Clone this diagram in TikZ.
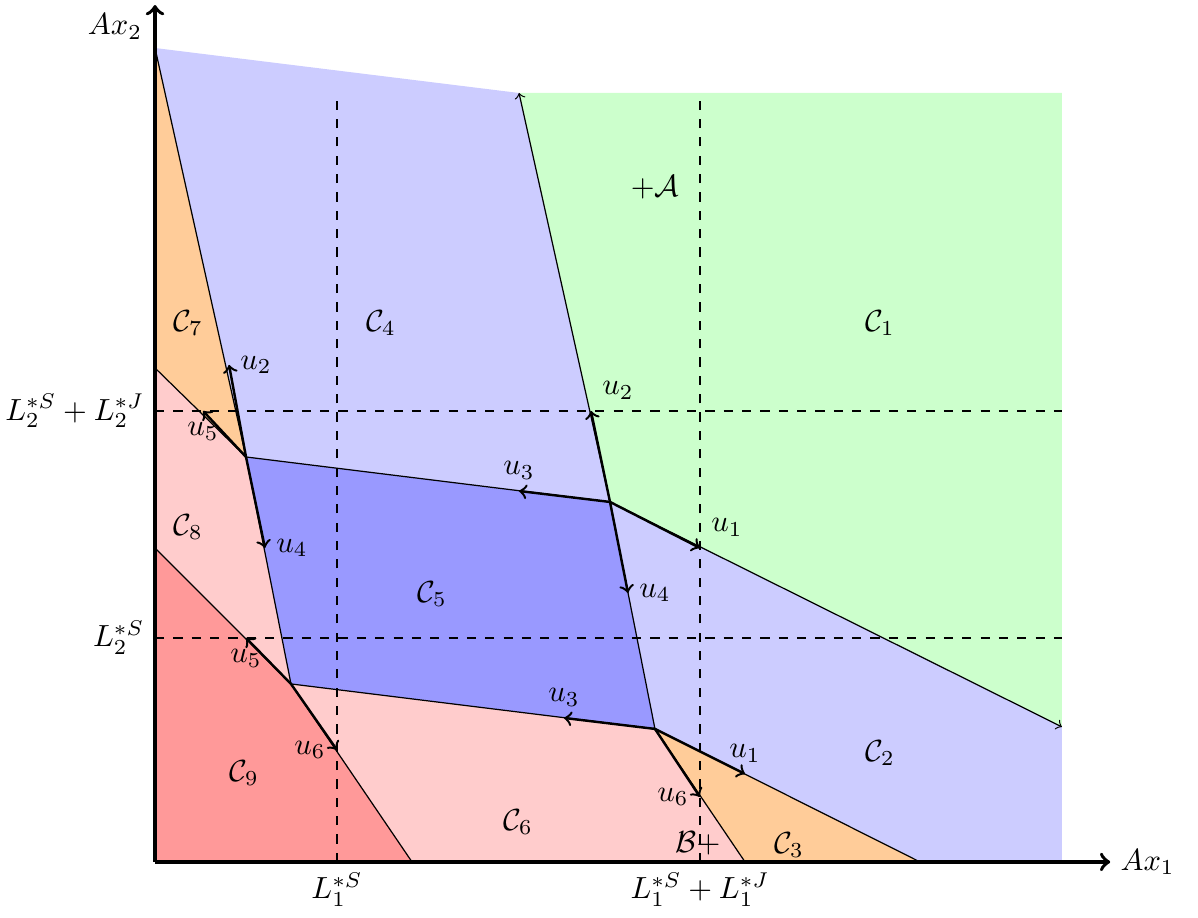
\documentclass[tikz,border=0pt]{standalone}
\usepackage{amsmath}
\begin{document}
\begin{tikzpicture}
	\newcommand\lsx{2.092};
	\newcommand\lsjx{6.264};
	\newcommand\lsy{2.575};
	\newcommand\lsjy{5.184};
	\newcommand\xright{10.425};
	\newcommand\ytop{8.839};
	\useasboundingbox (-1.782,-0.644) rectangle (11.989,9.908);
	% corners of the middle cell
	\coordinate (O) at (0,0);
	\coordinate (A) at (5.230,4.138);
	\coordinate (B) at (5.747,1.529);
	\coordinate (C) at (1.046,4.655);
	\coordinate (D) at (1.563,2.046);
	% where the cuts meet the border
	\coordinate (P) at (0,9.356);
	\coordinate (Q) at (0,5.678);
	\coordinate (R) at (0,3.609);
	\coordinate (T) at (4.184,\ytop);
	\coordinate (H) at (\xright,1.552);
	\coordinate (E) at (2.954,0);
	\coordinate (F) at (6.782,0);
	\coordinate (G) at (8.793,0);
	\coordinate (TR) at (\xright,\ytop);
	\coordinate (BR) at (\xright,0);
	\coordinate (xend) at (10.98,0);
	\coordinate (yend) at (0,9.85);
	% regions
	\fill[green!20] (T) -- (TR) -- (H) -- (A) -- cycle;
	\fill[blue!20] (P) -- (T) -- (A) -- (C) -- cycle;
	\fill[blue!20] (A) -- (H) -- (BR) -- (G) -- (B) -- cycle;
	\fill[orange!40] (P) -- (C) -- (Q) -- cycle;
	\fill[orange!40] (B) -- (G) -- (F) -- cycle;
	\fill[red!20] (Q) -- (C) -- (D) -- (R) -- cycle;
	\fill[red!20] (D) -- (B) -- (F) -- (E) -- cycle;
	\fill[red!40] (R) -- (D) -- (E) -- (O) -- cycle;
	\fill[blue!40] (C) -- (A) -- (B) -- (D) -- cycle;
	% levels
	\foreach \i in {\lsx,\lsjx} {
		\draw[dashed] (\i,0) -- (\i,\ytop);
	}
	\foreach \i in {\lsy,\lsjy} {
		\draw[dashed] (0,\i) -- (\xright,\i);
	}
	% borders
	\draw (P) -- (C) -- (A);
	\draw (Q) -- (C) -- (D) -- (B) -- (A);
	\draw (R) -- (D) -- (E);
	\draw (F) -- (B) -- (G);
	\draw[->] (A) -- (T);
	\draw[->] (A) -- (H);
	% moves
	\foreach \from/\x/\y/\an/\lab in {C/0.851/5.713/west/2, C/0.552/5.184/north/5, C/1.264/3.609/west/4, D/1.046/2.575/north/5, D/2.092/1.287/east/6, A/4.184/4.264/south/3, A/5.011/5.184/south west/2, A/6.264/3.609/south west/1, A/5.437/3.092/west/4, B/4.701/1.655/south/3, B/6.782/1.011/south/1, B/6.264/0.747/east/6} {
		\coordinate (end-\from\lab) at (\x,\y);
		\draw[thick,->] (\from) -- (end-\from\lab) node[anchor=\an] (lbl-\from\lab) {$u_\lab$};
	}
	\draw[very thick,->] (O) -- (xend);
	\draw[very thick,->] (O) -- (yend);
	\node (ax1) at (11.41,0) {$Ax_1$};
	\node (ax2) at (-0.46,9.6) {$Ax_2$};
	\node[left] (l2sj) at (0,\lsjy) {$L_2^{*S}+L_2^{*J}$};
	\node[left] (l2s) at (0,\lsy) {$L_2^{*S}$};
	\node[below] (l1s) at (\lsx,0) {$L_1^{*S}$};
	\node[below] (l1sj) at (\lsjx,0) {$L_1^{*S}+L_1^{*J}$};
	% cell names
	\node (c1) at (8.333,6.195) {$\mathcal{C}_1$};
	\node (c2) at (8.333,1.253) {$\mathcal{C}_2$};
	\node (c3) at (7.287,0.195) {$\mathcal{C}_3$};
	\node (c4) at (2.598,6.195) {$\mathcal{C}_4$};
	\node (c5) at (3.184,3.080) {$\mathcal{C}_5$};
	\node (c6) at (4.172,0.460) {$\mathcal{C}_6$};
	\node (c7) at (0.379,6.195) {$\mathcal{C}_7$};
	\node (c8) at (0.379,3.851) {$\mathcal{C}_8$};
	\node (c9) at (1.023,1.023) {$\mathcal{C}_9$};
	\node (plusA) at (5.747,7.759) {$+\mathcal{A}$};
	\node (Bplus) at (6.241,0.218) {$\mathcal{B}+$};
\end{tikzpicture}
\end{document}
